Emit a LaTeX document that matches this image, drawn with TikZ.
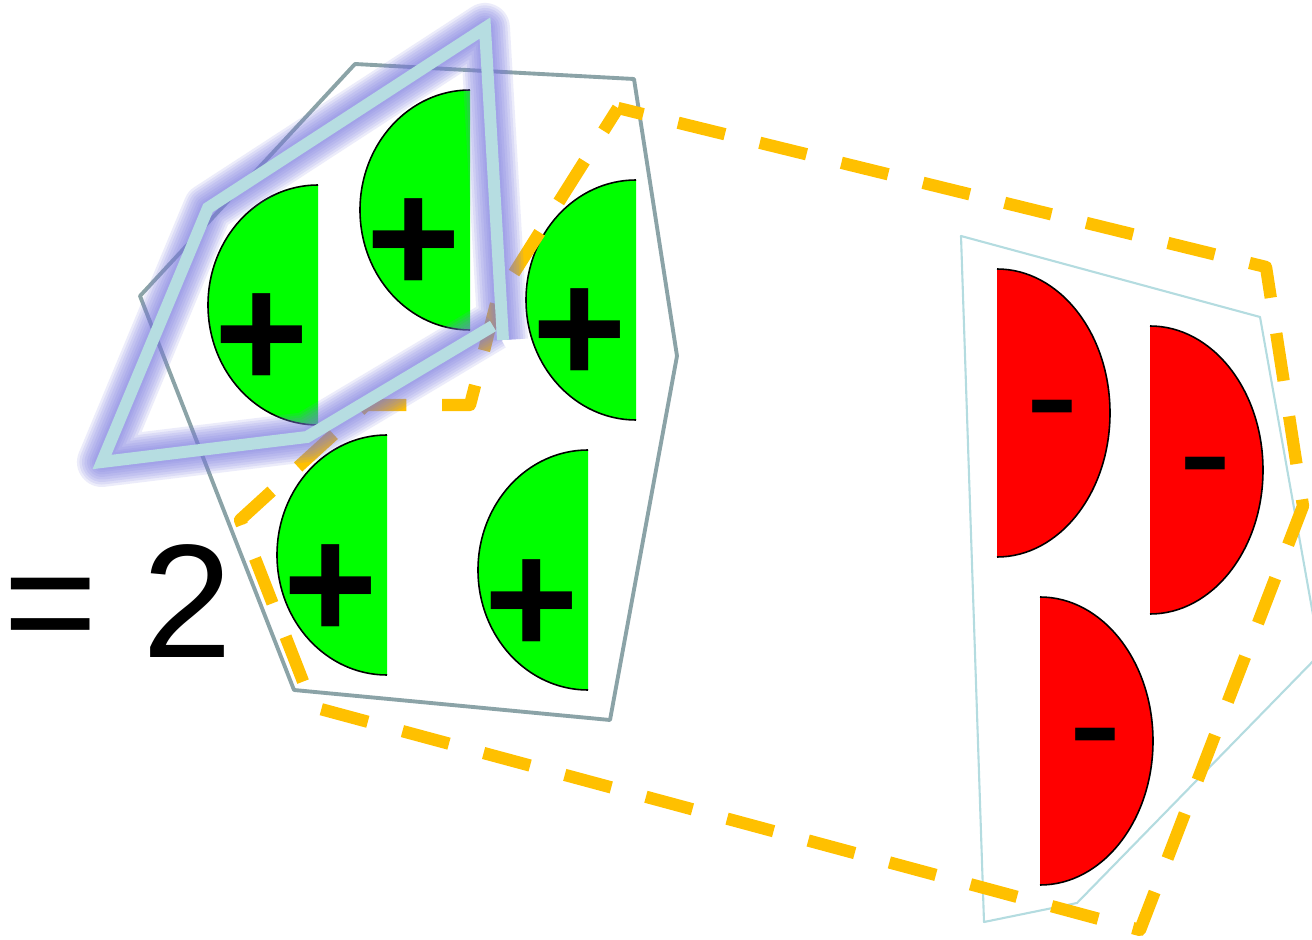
\documentclass[tikz,border=0pt]{standalone}
\usepackage{fontspec}
\setmainfont{Liberation Sans}
\definecolor{hullgray}{HTML}{8BA3A7}
\definecolor{hullblue}{HTML}{B4DCE0}
\definecolor{glowline}{HTML}{B6DDE1}
\definecolor{glowhalo}{HTML}{7A7ADE}
\definecolor{dashorange}{HTML}{FFC000}
\definecolor{posgreen}{HTML}{00FF00}
\definecolor{negred}{HTML}{FF0000}

\begin{document}
\begin{tikzpicture}[
    x=0.01cm, y=-0.01cm,
    pos_half/.style={fill=posgreen},
    neg_half/.style={fill=negred},
    half_edge/.style={draw=black, line width=0.45pt},
    sign_text/.style={inner sep=0pt, anchor=base, font=\fontsize{46}{46}\selectfont},
    gray_hull/.style={draw=hullgray, line width=1.1pt, line join=round},
    blue_hull/.style={draw=hullblue, line width=0.6pt, line join=round},
    dash_hull/.style={draw=dashorange, line width=3.5pt, dash pattern=on 13.7pt off 10.2pt, dash phase=6.3pt, line join=round},
    glow_halo/.style={draw=glowhalo, opacity=0.14, line join=round},
    glow_path/.style={draw=glowline, line width=3.4pt}
]
\useasboundingbox (0,0) rectangle (1312,940);

% hulls behind the charges
\draw[gray_hull] (355,64) -- (634,79) -- (677,356) -- (610,720) -- (294,690) -- (140,296) -- cycle;
\draw[blue_hull] (961,236) -- (1260,317) -- (1320,654) -- (1077,903) -- (984,922) -- cycle;

% positive charges
\foreach \i/\fx/\cy in {1/318/305, 2/470/210, 3/636/300, 4/387/555, 5/588/570} {
  \fill[pos_half] (\fx,\cy-120) arc[start angle=270, end angle=90, x radius=110, y radius=120] -- cycle;
  \draw[half_edge] (\fx,\cy-120) arc[start angle=270, end angle=90, x radius=110, y radius=120];
  \node[sign_text, font=\fontsize{46}{46}\selectfont\bfseries] (plus\i) at (\fx-56,\cy+84) {+};
}

% negative charges
\foreach \i/\fx/\cy in {1/997/413, 2/1150/470, 3/1040/741} {
  \fill[neg_half] (\fx,\cy-144) arc[start angle=-90, end angle=90, x radius=113, y radius=144] -- cycle;
  \draw[half_edge] (\fx,\cy-144) arc[start angle=-90, end angle=90, x radius=113, y radius=144];
  \node[sign_text] (minus\i) at (\fx+55,\cy+36) {-};
}

% dashed hull
\draw[dash_hull] (618,108) -- (1266,267) -- (1303,506) -- (1140,930) -- (313,707) -- (240,520) -- (366,405) -- (470,405) -- (497,300) -- cycle;

% glowing outline
\coordinate (g1) at (493,326);
\coordinate (g2) at (307,437);
\coordinate (g3) at (102,462);
\coordinate (g4) at (208,208);
\coordinate (g5) at (485,28);
\coordinate (g6) at (503,340);
\foreach \w in {14.2pt, 12.8pt, 11.4pt, 10pt, 8.5pt, 7.1pt, 5.7pt, 4.6pt}
  \draw[glow_halo, line width=\w] (g1) -- (g2) -- (g3) -- (g4) -- (g5) -- (g6);
\draw[glow_path] (g1) -- (g2) -- (g3) -- (g4) -- (g5) -- (g6);

\node[inner sep=0pt, anchor=base west, font=\fontsize{46}{46}\selectfont] (result) at (3,657) {= 2};
\end{tikzpicture}
\end{document}
